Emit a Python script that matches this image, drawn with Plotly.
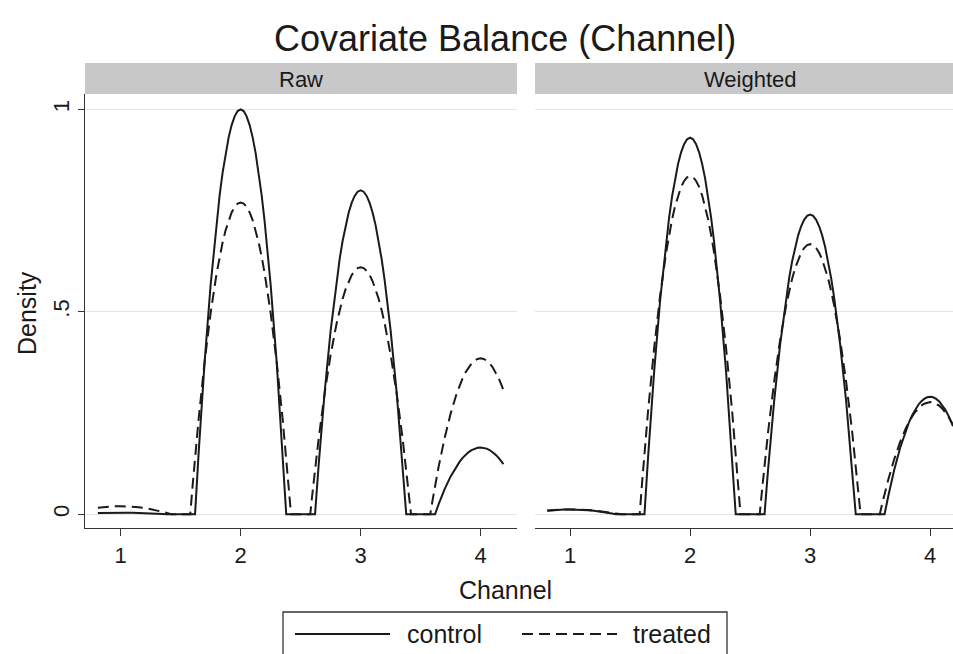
import plotly.graph_objects as go

# ---- data ----
channel = [0.81, 0.85, 0.90, 0.95, 1.00, 1.05, 1.10, 1.15, 1.20, 1.25, 1.30, 1.35,
           1.38, 1.40, 1.42, 1.45, 1.50, 1.55, 1.58, 1.60, 1.62,
           1.65, 1.70, 1.75, 1.80, 1.825, 1.85, 1.875, 1.90, 1.925, 1.95, 1.975, 2.00,
           2.025, 2.05, 2.075, 2.10, 2.125, 2.15, 2.175, 2.20, 2.25, 2.30, 2.35,
           2.38, 2.40, 2.42, 2.45, 2.50, 2.55, 2.58, 2.60, 2.62,
           2.65, 2.70, 2.75, 2.80, 2.825, 2.85, 2.875, 2.90, 2.925, 2.95, 2.975, 3.00,
           3.025, 3.05, 3.075, 3.10, 3.125, 3.15, 3.175, 3.20, 3.25, 3.30, 3.35,
           3.38, 3.40, 3.42, 3.45, 3.50, 3.55, 3.58, 3.60, 3.62,
           3.65, 3.70, 3.75, 3.80, 3.825, 3.85, 3.875, 3.90, 3.925, 3.95, 3.975, 4.00,
           4.025, 4.05, 4.075, 4.10, 4.125, 4.15, 4.175, 4.19]

raw_control = [0.0030, 0.0034, 0.0037, 0.0039, 0.0040, 0.0039, 0.0037, 0.0034, 0.0029, 0.0023, 0.0015, 0.0006,
               0, 0, 0, 0, 0, 0, 0, 0, 0,
               0.1517, 0.3767, 0.5672, 0.7230, 0.7879, 0.8442, 0.8918, 0.9307, 0.9610, 0.9827, 0.9957, 1.0000,
               0.9957, 0.9827, 0.9610, 0.9307, 0.8918, 0.8442, 0.7879, 0.7230, 0.5672, 0.3767, 0.1517,
               0, 0, 0, 0, 0, 0, 0, 0, 0,
               0.1214, 0.3014, 0.4538, 0.5784, 0.6303, 0.6754, 0.7134, 0.7446, 0.7688, 0.7862, 0.7966, 0.8000,
               0.7966, 0.7862, 0.7688, 0.7446, 0.7134, 0.6754, 0.6303, 0.5784, 0.4538, 0.3014, 0.1214,
               0, 0, 0, 0, 0, 0, 0, 0, 0,
               0.0250, 0.0622, 0.0936, 0.1193, 0.1300, 0.1393, 0.1471, 0.1536, 0.1586, 0.1621, 0.1643, 0.1650,
               0.1643, 0.1621, 0.1586, 0.1536, 0.1471, 0.1393, 0.1300, 0.1238]

raw_treated = [0.0159, 0.0174, 0.0189, 0.0197, 0.0200, 0.0197, 0.0189, 0.0174, 0.0155, 0.0129, 0.0098, 0.0061,
               0.0036, 0.0019, 0, 0, 0, 0, 0, 0.0716, 0.1397,
               0.2353, 0.3771, 0.4972, 0.5954, 0.6363, 0.6717, 0.7018, 0.7263, 0.7454, 0.7591, 0.7673, 0.7700,
               0.7673, 0.7591, 0.7454, 0.7263, 0.7018, 0.6717, 0.6363, 0.5954, 0.4972, 0.3771, 0.2353,
               0.1397, 0.0716, 0, 0, 0, 0, 0, 0.0567, 0.1107,
               0.1864, 0.2988, 0.3939, 0.4717, 0.5041, 0.5322, 0.5560, 0.5754, 0.5905, 0.6013, 0.6079, 0.6100,
               0.6079, 0.6013, 0.5905, 0.5754, 0.5560, 0.5322, 0.5041, 0.4717, 0.3939, 0.2988, 0.1864,
               0.1107, 0.0567, 0, 0, 0, 0, 0, 0.0358, 0.0698,
               0.1177, 0.1886, 0.2486, 0.2977, 0.3182, 0.3359, 0.3509, 0.3632, 0.3727, 0.3795, 0.3837, 0.3850,
               0.3837, 0.3795, 0.3727, 0.3632, 0.3509, 0.3359, 0.3182, 0.3062]

weighted_control = [0.0090, 0.0101, 0.0112, 0.0118, 0.0120, 0.0118, 0.0112, 0.0101, 0.0087, 0.0068, 0.0045, 0.0018,
                    0, 0, 0, 0, 0, 0, 0, 0, 0,
                    0.1411, 0.3503, 0.5275, 0.6724, 0.7327, 0.7851, 0.8294, 0.8656, 0.8937, 0.9139, 0.9260, 0.9300,
                    0.9260, 0.9139, 0.8937, 0.8656, 0.8294, 0.7851, 0.7327, 0.6724, 0.5275, 0.3503, 0.1411,
                    0, 0, 0, 0, 0, 0, 0, 0, 0,
                    0.1123, 0.2788, 0.4197, 0.5350, 0.5830, 0.6247, 0.6599, 0.6887, 0.7111, 0.7272, 0.7368, 0.7400,
                    0.7368, 0.7272, 0.7111, 0.6887, 0.6599, 0.6247, 0.5830, 0.5350, 0.4197, 0.2788, 0.1123,
                    0, 0, 0, 0, 0, 0, 0, 0, 0,
                    0.0440, 0.1092, 0.1645, 0.2097, 0.2285, 0.2448, 0.2586, 0.2699, 0.2787, 0.2850, 0.2888, 0.2900,
                    0.2888, 0.2850, 0.2787, 0.2699, 0.2586, 0.2448, 0.2285, 0.2175]

weighted_treated = [0.0095, 0.0105, 0.0113, 0.0118, 0.0120, 0.0118, 0.0113, 0.0105, 0.0093, 0.0077, 0.0059, 0.0037,
                    0.0022, 0.0011, 0, 0, 0, 0, 0, 0.0777, 0.1515,
                    0.2552, 0.4090, 0.5392, 0.6456, 0.6900, 0.7285, 0.7610, 0.7877, 0.8084, 0.8231, 0.8321, 0.8350,
                    0.8321, 0.8231, 0.8084, 0.7877, 0.7610, 0.7285, 0.6900, 0.6456, 0.5392, 0.4090, 0.2552,
                    0.1515, 0.0777, 0, 0, 0, 0, 0, 0.0620, 0.1210,
                    0.2038, 0.3267, 0.4307, 0.5157, 0.5512, 0.5819, 0.6079, 0.6292, 0.6457, 0.6575, 0.6647, 0.6670,
                    0.6647, 0.6575, 0.6457, 0.6292, 0.6079, 0.5819, 0.5512, 0.5157, 0.4307, 0.3267, 0.2038,
                    0.1210, 0.0620, 0, 0, 0, 0, 0, 0.0258, 0.0502,
                    0.0847, 0.1357, 0.1789, 0.2142, 0.2289, 0.2417, 0.2525, 0.2613, 0.2682, 0.2731, 0.2760, 0.2770,
                    0.2760, 0.2731, 0.2682, 0.2613, 0.2525, 0.2417, 0.2289, 0.2203]

x_ticks = [1, 2, 3, 4]
x_ticktext = ["1", "2", "3", "4"]
y_ticks = [0, 0.5, 1]
y_ticktext = ["0", ".5", "1"]
panels = ["Raw", "Weighted"]
groups = ["control", "treated"]

for s in (raw_control, raw_treated, weighted_control, weighted_treated):
    assert len(s) == len(channel), (len(s), len(channel))

# ---- style ----
W, H = 953, 654
FONT = "Liberation Sans, Arial, Helvetica, sans-serif"
INK = "#1a1a1a"
AXIS = "#333333"
GRID = "#e4e4e4"
STRIP = "#c8c8c8"
DASH = "11px,6px"

def px(x):
    return x / W

def py(y):
    return 1 - y / H

dom_left = [px(85), px(517)]
dom_right = [px(535), 1.0]
dom_y = [py(528.3), py(94)]

fig = go.Figure()
line_ctrl = dict(color=INK, width=2)
line_trt = dict(color=INK, width=2, dash=DASH)
fig.add_trace(go.Scatter(x=channel, y=raw_control, mode="lines", line=line_ctrl,
                         name=groups[0], xaxis="x", yaxis="y", showlegend=False))
fig.add_trace(go.Scatter(x=channel, y=raw_treated, mode="lines", line=line_trt,
                         name=groups[1], xaxis="x", yaxis="y", showlegend=False))
fig.add_trace(go.Scatter(x=channel, y=weighted_control, mode="lines", line=line_ctrl,
                         name=groups[0], xaxis="x2", yaxis="y2", showlegend=False))
fig.add_trace(go.Scatter(x=channel, y=weighted_treated, mode="lines", line=line_trt,
                         name=groups[1], xaxis="x2", yaxis="y2", showlegend=False))

tickfont = dict(family=FONT, size=22, color=INK)
xcommon = dict(tickvals=x_ticks, ticktext=x_ticktext, showgrid=False, zeroline=False,
               showline=True, linecolor=AXIS, linewidth=1.3, ticks="outside",
               ticklen=7, tickwidth=1.3, tickcolor=AXIS, tickfont=tickfont,
               fixedrange=True)
yrange = [-0.0346, 1.0378]

fig.update_layout(
    width=W, height=H,
    margin=dict(l=0, r=0, t=0, b=0),
    paper_bgcolor="white", plot_bgcolor="white",
    showlegend=False,
    xaxis=dict(domain=dom_left, range=[0.703, 4.303], anchor="y", **xcommon),
    xaxis2=dict(domain=dom_right, range=[0.708, 4.19], anchor="y2", **xcommon),
    yaxis=dict(domain=dom_y, range=yrange, anchor="x", tickvals=y_ticks, ticktext=y_ticktext,
               tickangle=-90, showgrid=True, gridcolor=GRID, gridwidth=1.3, zeroline=False,
               showline=True, linecolor=AXIS, linewidth=1.3, ticks="outside", ticklen=6,
               tickwidth=1.3, tickcolor=AXIS, tickfont=tickfont, fixedrange=True),
    yaxis2=dict(domain=dom_y, range=yrange, anchor="x2", tickvals=y_ticks,
                showticklabels=False, showgrid=True, gridcolor=GRID, gridwidth=1.3,
                zeroline=False, showline=False, ticks="", fixedrange=True),
)

shapes = []
annotations = []
# facet strips
for dom, label, cx in [(dom_left, panels[0], px(301)), (dom_right, panels[1], px(750))]:
    shapes.append(dict(type="rect", xref="paper", yref="paper", x0=dom[0], x1=dom[1],
                       y0=py(94), y1=py(63), fillcolor=STRIP, line=dict(width=0), layer="below"))
    annotations.append(dict(text=label, xref="paper", yref="paper", x=cx, y=py(79),
                            xanchor="center", yanchor="middle", showarrow=False,
                            font=dict(family=FONT, size=22, color=INK)))

# title and axis titles
annotations.append(dict(text="Covariate Balance (Channel)", xref="paper", yref="paper",
                        x=px(505), y=py(38), xanchor="center", yanchor="middle", showarrow=False,
                        font=dict(family=FONT, size=36, color=INK)))
annotations.append(dict(text="Channel", xref="paper", yref="paper", x=px(505), y=py(590),
                        xanchor="center", yanchor="middle", showarrow=False,
                        font=dict(family=FONT, size=25, color=INK)))
annotations.append(dict(text="Density", xref="paper", yref="paper", x=px(27), y=py(313),
                        xanchor="center", yanchor="middle", showarrow=False, textangle=-90,
                        font=dict(family=FONT, size=25, color=INK)))

# legend (drawn manually to match the wide line samples)
shapes.append(dict(type="rect", xref="paper", yref="paper", x0=px(283), x1=px(727),
                   y0=py(700), y1=py(612), fillcolor="white", line=dict(color=AXIS, width=1.3)))
shapes.append(dict(type="line", xref="paper", yref="paper", x0=px(295), x1=px(390),
                   y0=py(634), y1=py(634), line=dict(color=INK, width=2)))
shapes.append(dict(type="line", xref="paper", yref="paper", x0=px(522), x1=px(617),
                   y0=py(634), y1=py(634), line=dict(color=INK, width=2, dash=DASH)))
annotations.append(dict(text=groups[0], xref="paper", yref="paper", x=px(405), y=py(634),
                        xanchor="left", yanchor="middle", showarrow=False,
                        font=dict(family=FONT, size=25, color=INK)))
annotations.append(dict(text=groups[1], xref="paper", yref="paper", x=px(631), y=py(634),
                        xanchor="left", yanchor="middle", showarrow=False,
                        font=dict(family=FONT, size=25, color=INK)))

fig.update_layout(shapes=shapes, annotations=annotations)
fig.write_html("out.html")
